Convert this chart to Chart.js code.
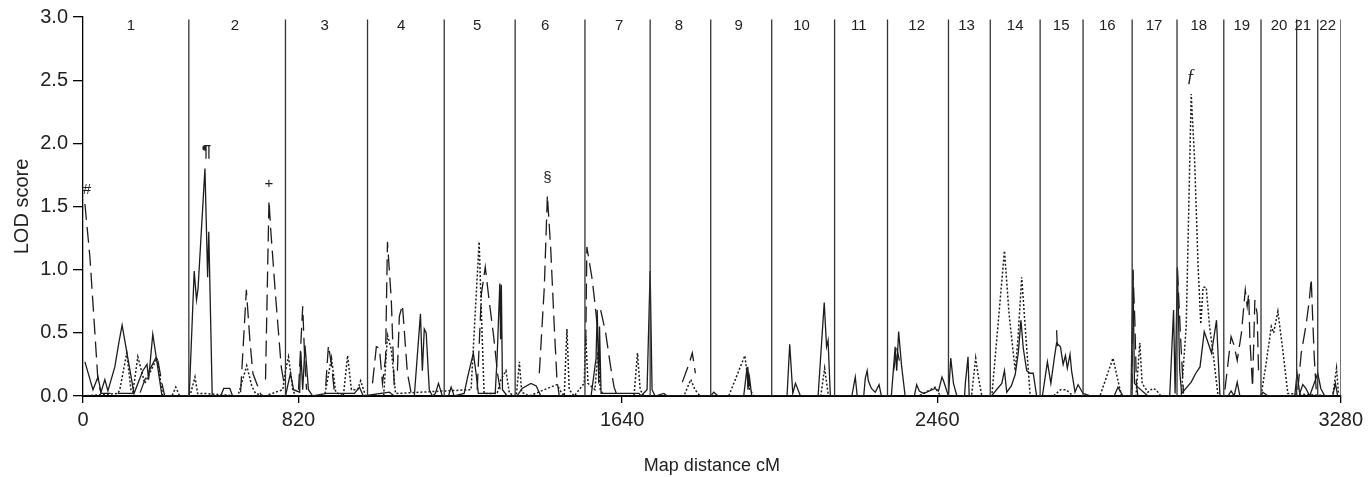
<!DOCTYPE html>
<html>
<head>
<meta charset="utf-8">
<script src="https://cdn.jsdelivr.net/npm/chart.js@4.4.1/dist/chart.umd.min.js"></script>
<style>
  html, body { margin: 0; padding: 0; background: #fff; }
  #wrap { width: 1368px; height: 477px; position: relative; }
</style>
</head>
<body>
<div id="wrap"><canvas id="lodChart"></canvas></div>
<script>
// [map position cM, LOD score]; [x, null] breaks the line
const solidLOD = [
    [5,0.27],[26,0.05],[39,0.15],[47,0.03],[57,0.13],[65,0.04],[83,0.23],[94,0.43],[102,0.56],[133,0.02],[156,0.2],[167,0.25],[171,0.13],[182,0.49],[206,0],[271,0],
    [277,0],[290,0.99],[296,0.76],[300,0.85],[318,1.8],[325,0.94],[328,1.3],[337,0],[359,0],[367,0.06],[383,0.06],[390,0],
    [528,0],[541,0.18],[549,0.05],[565,0.03],[568,0.35],[573,0.05],[579,0.4],[588,0.05],[599,0],[635,0.02],[708,0.02],[721,0.07],[731,0],
    [799,0.03],[812,0],[864,0],[880,0.65],[885,0.2],[890,0.53],[895,0.5],[903,0.05],[911,0],[919,0.02],[927,0.1],[937,0],
    [953,0],[960,0.07],[968,0],[994,0.02],[1003,0.15],[1018,0.34],[1025,0.18],[1031,0.02],[1075,0.02],[1080,0.31],[1087,0.89],[1089,0.45],[1091,0.88],[1094,0.05],[1106,0],
    [1132,0],[1145,0.06],[1168,0.1],[1182,0.08],[1194,0],
    [1325,0],[1338,0.3],[1341,0.68],[1345,0.1],[1347,0.55],[1351,0.02],[1450,0.02],[1455,0],[1471,0.05],[1479,0.99],[1484,0.05],
    [1492,0],[1515,0.02],[1523,0],
    [1637,0],[1645,0.03],[1656,0],[1723,0],[1732,0.23],[1734,0.05],[1738,0.15],[1744,0],
    [1836,0],[1843,0.41],[1851,0.02],[1858,0.1],[1871,0],[1917,0],[1933,0.74],[1939,0.39],[1943,0.44],[1949,0],
    [2005,0],[2014,0.15],[2019,0],[2036,0],[2040,0.14],[2045,0.2],[2048,0.12],[2056,0.06],[2066,0.03],[2076,0.09],[2082,0],
    [2108,0],[2118,0.39],[2122,0.2],[2127,0.51],[2135,0.23],[2144,0],[2168,0],[2174,0.09],[2181,0.04],[2192,0.02],[2222,0.06],[2231,0.04],[2240,0.15],[2244,0.12],
    [2257,0],[2263,0.3],[2270,0.1],[2279,0],[2299,0],[2301,0.1],[2308,0.31],[2311,0],
    [2369,0],[2396,0.1],[2403,0.2],[2409,0.03],[2421,0.08],[2431,0.17],[2439,0.34],[2446,0.6],[2452,0.38],[2461,0.2],[2470,0.18],[2478,0.18],[2487,0],
    [2502,0],[2515,0.27],[2524,0.1],[2533,0.3],[2539,0.42],[2549,0.39],[2556,0.25],[2562,0.32],[2567,0.22],[2574,0.33],[2578,0.2],[2587,0.03],[2595,0.09],[2608,0.02],
    [2629,0],[2689,0],[2699,0.07],[2712,0],
    [2733,0],[2738,1.0],[2742,0.1],[2751,0.07],[2777,0],[2834,0],[2844,0.68],[2848,0.02],[2854,1.02],[2860,0.2],[2865,0.02],
    [2890,0.11],[2902,0.18],[2913,0.23],[2924,0.51],[2932,0.44],[2943,0.34],[2949,0.46],[2956,0.6],[2965,0],
    [2986,0],[2994,0.04],[3002,0],[3010,0.11],[3017,0],
    [3072,0],[3077,0.03],[3090,0],
    [3160,0],[3166,0.18],[3173,0.02],[3181,0.09],[3189,0.06],[3199,0],
    [3220,0.18],[3228,0.06],[3238,0],[3259,0],[3266,0.1],[3272,0]
];

const dashedLOD = [
    [5,1.52],[18,1.1],[31,0.5],[39,0.12],[47,0.02],[148,0.02],[164,0.15],[193,0.32],[206,0.1],[213,0],[240,null],
    [411,0.03],[426,0.84],[435,0.45],[443,0.18],[465,0],[470,null],
    [476,0.13],[485,1.55],[489,1.34],[502,0.8],[517,0.23],[526,0.07],[527,null],
    [562,0.05],[573,0.71],[578,0.3],[583,0.05],[600,null],
    [633,0.08],[640,0.4],[648,0.25],[656,0.02],[700,null],
    [755,0.1],[765,0.39],[773,0.38],[781,0.1],[789,0.3],[794,1.22],[804,0.76],[812,0.05],[816,null],
    [820,0.2],[825,0.63],[833,0.72],[846,0.18],[856,0.02],[900,null],
    [1028,0.05],[1033,0.39],[1039,0.81],[1049,1.02],[1059,0.76],[1071,0.47],[1081,0.18],[1088,0.05],[1100,null],
    [1190,0.18],[1203,0.86],[1211,1.59],[1220,1.15],[1229,0.55],[1236,0.13],[1242,0],[1260,null],
    [1311,0.4],[1314,1.18],[1328,0.92],[1337,0.68],[1341,0.55],[1345,null],
    [1350,0.68],[1363,0.5],[1376,0.23],[1385,0.07],[1393,0],[1400,null],
    [1563,0.11],[1580,0.25],[1589,0.34],[1597,0.18],[1600,null],
    [1734,0.2],[1739,0.05],[1745,null],
    [2114,0.2],[2122,0.38],[2129,0.28],[2135,null],
    [2539,0.52],[2541,0.38],[2545,null],
    [2736,0.05],[2738,1.0],[2743,0.6],[2747,0.1],[2751,0],[2800,null],
    [2854,1.0],[2857,0.81],[2863,0.42],[2870,0.02],[2875,null],
    [2978,0.05],[2994,0.47],[3002,0.4],[3010,0.28],[3021,0.5],[3031,0.84],[3036,0.71],[3040,0.81],[3043,0.45],[3050,0.07],[3056,0.76],[3062,0.65],[3066,0.15],[3070,null],
    [3168,0.05],[3177,0.34],[3190,0.57],[3198,0.76],[3203,0.93],[3207,0.6],[3211,0.3],[3217,0]
];

const dottedLOD = [
    [0,0],[91,0.02],[96,0.05],[114,0.34],[125,0.05],[130,0.03],[143,0.31],[161,0.1],[169,0.15],[193,0.3],[208,0],[232,0],[242,0.07],[252,0],
    [279,0],[292,0.15],[299,0.02],[318,0.02],[404,0],[427,0.24],[440,0.08],[450,0.02],[474,0],
    [521,0.05],[528,0.2],[536,0.31],[547,0.05],[554,0],[630,0],[648,0.3],[659,0.03],[679,0],[690,0.32],[700,0.05],[716,0.05],[724,0.12],[737,0],
    [784,0],[794,0.48],[804,0.37],[815,0.02],
    [1012,0.05],[1033,1.22],[1039,0.65],[1046,0.02],[1080,0.02],[1090,0.13],[1103,0.2],[1112,0.02],
    [1130,0],[1138,0.27],[1144,0.03],[1164,0],[1203,0.05],[1236,0.09],[1247,0.03],[1255,0],[1262,0.53],[1268,0.05],[1281,0],
    [1307,0.1],[1311,0.47],[1317,0.1],[1335,0.05],[1343,0.35],[1349,0.05],[1359,0],[1437,0],[1446,0.34],[1453,0.05],[1463,0],
    [1567,0],[1585,0.13],[1596,0.05],[1609,0],
    [1684,0],[1726,0.32],[1736,0.07],[1749,0],
    [1924,0],[1934,0.22],[1944,0],
    [2179,0],[2222,0.07],[2236,0],
    [2317,0],[2328,0.3],[2335,0.15],[2344,0],
    [2370,0],[2403,1.15],[2415,0.65],[2431,0.2],[2438,0.44],[2448,0.94],[2457,0.55],[2470,0],
    [2531,0],[2549,0.05],[2564,0.05],[2582,0],
    [2652,0],[2686,0.3],[2708,0],
    [2746,0],[2756,0.42],[2762,0.1],[2777,0.03],[2790,0.06],[2798,0.05],[2811,0],
    [2864,0],[2877,0.55],[2890,2.39],[2899,1.86],[2908,1.02],[2915,0.57],[2921,0.86],[2929,0.86],[2938,0.55],[2947,0.34],[2960,0],
    [3072,0],[3085,0.25],[3099,0.55],[3105,0.5],[3116,0.67],[3129,0.36],[3142,0.02],
    [3259,0],[3269,0.22],[3274,0.02]
];

// chromosome boundaries (end of each chromosome, cM) and label positions
const chromEnds = [276, 528, 742, 942, 1127, 1309, 1479, 1637, 1796, 1960, 2098, 2257, 2366, 2496, 2608, 2736, 2853, 2975, 3072, 3165, 3220, 3280];
const chromNames = ['1','2','3','4','5','6','7','8','9','10','11','12','13','14','15','16','17','18','19','20','21','22'];
const chromNamePos = [125, 396, 630, 830, 1028, 1205, 1398, 1554, 1710, 1874, 2023, 2174, 2304, 2431, 2551, 2671, 2793, 2910, 3022, 3119, 3181, 3246];
const chromLineTop = 2.98;
const chromNameY = 2.93;

// peak markers
const markText = ['#', '¶', '+', '§', 'ƒ'];
const markX = [10, 322, 485, 1211, 2889];
const markY = [1.63, 1.93, 1.68, 1.73, 2.52];

// x axis ticks as printed on the figure
const xTickPos = [0, 562, 1406, 2228, 3280];
const xTickLabels = ['0', '820', '1640', '2460', '3280'];

const toPoints = arr => arr.map(p => ({ x: p[0], y: p[1] }));
const chromLines = chromEnds.flatMap(b => [{ x: b, y: 0 }, { x: b, y: chromLineTop }, { x: b, y: null }]);

const FONT = "'Liberation Sans', Arial, Helvetica, sans-serif";
Chart.defaults.font.family = FONT;
Chart.defaults.color = '#222';

const textPlugin = {
    id: 'chromText',
    afterDatasetsDraw(chart) {
        const { ctx, scales: { x, y } } = chart;
        ctx.save();
        ctx.fillStyle = '#222';
        ctx.textAlign = 'center';
        ctx.textBaseline = 'middle';
        ctx.font = `15px ${FONT}`;
        chromNames.forEach((t, i) => {
            ctx.fillText(t, x.getPixelForValue(chromNamePos[i]), y.getPixelForValue(chromNameY));
        });
        markText.forEach((t, i) => {
            if (t === 'ƒ') ctx.font = "italic 18px 'Liberation Serif', serif";
            else if (t === '¶') ctx.font = `bold 17px ${FONT}`;
            else ctx.font = `15px ${FONT}`;
            ctx.fillText(t, x.getPixelForValue(markX[i]), y.getPixelForValue(markY[i]));
        });
        ctx.restore();
    }
};

const lineColor = '#1c1c1c';

new Chart(document.getElementById('lodChart'), {
    type: 'line',
    data: {
        datasets: [
            {
                label: 'chromosomes',
                data: chromLines,
                borderColor: '#333',
                borderWidth: 1.3,
                pointRadius: 0,
                spanGaps: false
            },
            {
                label: 'solid',
                data: toPoints(solidLOD),
                borderColor: lineColor,
                borderWidth: 1.3,
                pointRadius: 0,
                tension: 0,
                spanGaps: false
            },
            {
                label: 'dashed',
                data: toPoints(dashedLOD),
                borderColor: lineColor,
                borderWidth: 1.3,
                borderDash: [16, 7],
                pointRadius: 0,
                tension: 0,
                spanGaps: false
            },
            {
                label: 'dotted',
                data: toPoints(dottedLOD),
                borderColor: lineColor,
                borderWidth: 1.5,
                borderDash: [2, 2],
                pointRadius: 0,
                tension: 0,
                spanGaps: false
            }
        ]
    },
    options: {
        responsive: true,
        maintainAspectRatio: false,
        animation: false,
        layout: { padding: { left: 0, right: 25, top: 16, bottom: 0 } },
        plugins: {
            legend: { display: false },
            tooltip: { enabled: false }
        },
        scales: {
            x: {
                type: 'linear',
                min: 0,
                max: 3280,
                afterFit: scale => { scale.height = 81; },
                afterBuildTicks: scale => { scale.ticks = xTickPos.map(v => ({ value: v })); },
                grid: { drawOnChartArea: false, tickLength: 7, color: '#000', lineWidth: 1.3 },
                border: { display: true, color: '#000', width: 2 },
                ticks: {
                    autoSkip: false,
                    maxRotation: 0,
                    padding: 5,
                    font: { size: 20 },
                    color: '#222',
                    callback: (v, i) => xTickLabels[i]
                },
                title: {
                    display: true,
                    text: 'Map distance cM',
                    font: { size: 18, lineHeight: 1.2 },
                    color: '#222',
                    padding: { top: 0, bottom: 0 }
                }
            },
            y: {
                min: 0,
                max: 3,
                afterFit: scale => { scale.width = 83; },
                grid: { drawOnChartArea: false, tickLength: 10, color: '#000', lineWidth: 1.3 },
                border: { display: true, color: '#000', width: 1.3 },
                ticks: {
                    stepSize: 0.5,
                    padding: 5,
                    font: { size: 20 },
                    color: '#222',
                    callback: v => v.toFixed(1)
                },
                title: {
                    display: true,
                    text: 'LOD score',
                    font: { size: 20, lineHeight: 1.2 },
                    color: '#222',
                    padding: { top: 10, bottom: 0 }
                }
            }
        }
    },
    plugins: [textPlugin]
});
</script>
</body>
</html>
